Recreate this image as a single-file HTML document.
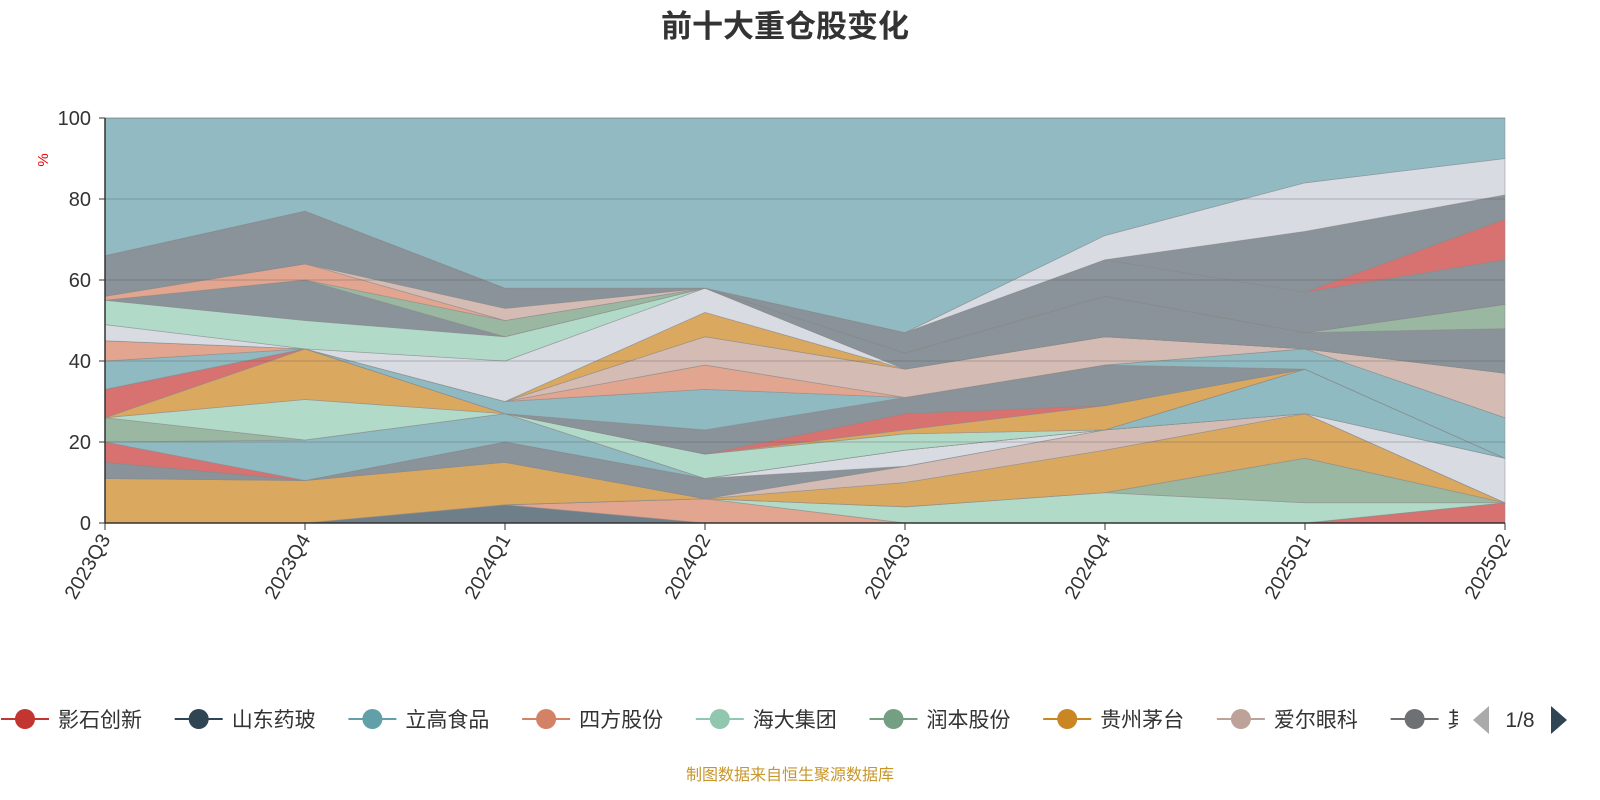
<!DOCTYPE html>
<html><head><meta charset="utf-8"><style>
body{margin:0;width:1600px;height:800px;background:#fff;overflow:hidden;font-family:"Liberation Sans","Noto Sans CJK SC",sans-serif}
svg{position:absolute;left:0;top:0}
</style></head><body>
<svg id="c" width="1600" height="800">
<text x="785" y="37" text-anchor="middle" font-size="31" font-weight="bold" fill="#333">前十大重仓股变化</text>
<g id="areas"></g>
<g id="axes"></g>
<g id="legend"></g>
<text x="790" y="780" text-anchor="middle" font-size="16" fill="#c8962a">制图数据来自恒生聚源数据库</text>
</svg>
<script>
const categories=["2023Q3","2023Q4","2024Q1","2024Q2","2024Q3","2024Q4","2025Q1","2025Q2"];
const yTicks=[0,20,40,60,80,100];
const legendNames=["影石创新","山东药玻","立高食品","四方股份","海大集团","润本股份","贵州茅台","爱尔眼科","其"];
const legendColors=["#c23531","#2f4554","#61a0a8","#d48265","#91c7ae","#749f83","#ca8622","#bda29a","#6e7074"];
const seriesValues=[
[0,0,4.5,0,0,0,0,0],
[0,0,0,0,0,0,0,5],
[0,0,0,6,0,0,0,0],
[0,0,0,0,4,7.5,5,0],
[0,0,0,0,0,0,11,0],
[11,10.5,10.5,0,6,10.5,11,0],
[0,0,0,0,4,5,0,0],
[4,0,5,5,0,0,0,0],
[0,0,0,0,4,0,0,11],
[5,0,0,0,0,0,0,0],
[0,10,7,0,0,0,11,0],
[6,0,0,0,0,0,0,0],
[0,10,0,6,4,0,0,0],
[0,12.5,0,0,1,6,0,0],
[7,0,0,0,4,0,0,0],
[0,0,0,6,4,10,0,0],
[7,0,3,10,0,0,5,10],
[5,0,0,6,0,0,0,0],
[0,0,0,7,7,7,0,11],
[0,0,0,6,0,0,0,0],
[4,0,10,6,0,0,0,0],
[6,7,6,0,0,0,0,0],
[0,10,0,0,4,10,4,11],
[0,0,4,0,0,0,0,6],
[1,4,0,0,0,0,0,0],
[0,0,3,0,0,0,0,0],
[10,13,5,0,5,9,10,11],
[0,0,0,0,0,0,0,10],
[0,0,0,0,0,0,15,6],
[0,0,0,0,0,6,12,9]
];
const fills=["#6e7f8a","#d87270","#e2a58f","#b2dac8","#9ab7a2","#dba860","#d4bcb5","#8a9399","#d8dce2","#d87270","#8fbac2","#9ab7a2","#b2dac8","#dba860","#d87270","#8a9399","#8fbac2","#e2a58f","#d4bcb5","#dba860","#d8dce2","#b2dac8","#8a9399","#9ab7a2","#e2a58f","#d4bcb5","#8a9399","#d87270","#8a9399","#d8dce2"];
const NS="http://www.w3.org/2000/svg";
const X0=105,X1=1505,Y0=523,Y1=118;
const xs=i=>X0+(X1-X0)*i/(categories.length-1);
const ys=v=>Y0-(Y0-Y1)*v/100;
function mk(t,a,p){const e=document.createElementNS(NS,t);for(const k in a)e.setAttribute(k,a[k]);p.appendChild(e);return e;}
const areas=document.getElementById('areas');
let cum=categories.map(()=>0);
const all=seriesValues.slice();
const other=categories.map((_,i)=>100-seriesValues.reduce((s,r)=>s+r[i],0));
all.push(other);
all.forEach((vals,si)=>{
  const lo=cum.slice(),hi=cum.map((c,i)=>c+vals[i]);
  let pts=hi.map((v,i)=>xs(i)+','+ys(v));
  for(let i=lo.length-1;i>=0;i--)pts.push(xs(i)+','+ys(lo[i]));
  const p=mk('polygon',{points:pts.join(' '),fill:si<fills.length?fills[si]:'#91bac2',stroke:'#888','stroke-width':0.8,'stroke-opacity':0.6},areas);
  
  
  cum=hi;
});
const ax=document.getElementById('axes');
yTicks.forEach(t=>{
  if(t>0){const g=mk('line',{x1:X0,x2:X1,y1:ys(t),y2:ys(t),stroke:'#555','stroke-opacity':0.35,'stroke-width':1},ax);
  
  }
  mk('line',{x1:X0-6,x2:X0,y1:ys(t),y2:ys(t),stroke:'#333'},ax);
  const l=mk('text',{x:X0-14,y:ys(t)+7,'text-anchor':'end','font-size':20,fill:'#333'},ax);
  l.textContent=t;
  
  
});
mk('line',{x1:X0,x2:X0,y1:Y1,y2:Y0,stroke:'#333','stroke-width':1.5},ax);
mk('line',{x1:X0,x2:X1,y1:Y0,y2:Y0,stroke:'#333','stroke-width':1.5},ax);
const pct=mk('text',{x:48,y:160,'font-size':15,fill:'#e00',transform:'rotate(-90 48 160)','text-anchor':'middle'},ax);
pct.textContent='%';


categories.forEach((c,i)=>{
  const x=xs(i);
  mk('line',{x1:x,x2:x,y1:Y0,y2:Y0+7,stroke:'#333'},ax);
  const t=mk('text',{x:x+6,y:Y0+16,'text-anchor':'end','font-size':20,fill:'#333',transform:`rotate(-60 ${x+6} ${Y0+16})`},ax);
  t.textContent=c;
  
  
});
const lg=document.getElementById('legend');
legendNames.forEach((n,i)=>{
  const cx=25+i*173.7;
  const g=mk('g',{},lg);
  
  
  mk('line',{x1:cx-24,x2:cx+24,y1:719,y2:719,stroke:legendColors[i],'stroke-width':2},g);
  mk('circle',{cx:cx,cy:719,r:10,fill:legendColors[i]},g);
  const t=mk('text',{x:cx+33,y:727,'font-size':21,fill:'#333'},g);
  t.textContent=n;
});
const pg=mk('g',{},lg);


mk('rect',{x:1458,y:695,width:142,height:50,fill:'#fff'},pg);
mk('polygon',{points:'1489,706 1489,734 1473,720',fill:'#aaa'},pg);
const pt=mk('text',{x:1520,y:727,'font-size':21,fill:'#333','text-anchor':'middle'},pg);
pt.textContent='1/8';
mk('polygon',{points:'1551,706 1551,734 1567,720',fill:'#2f4554'},pg);
</script>
</body></html>
